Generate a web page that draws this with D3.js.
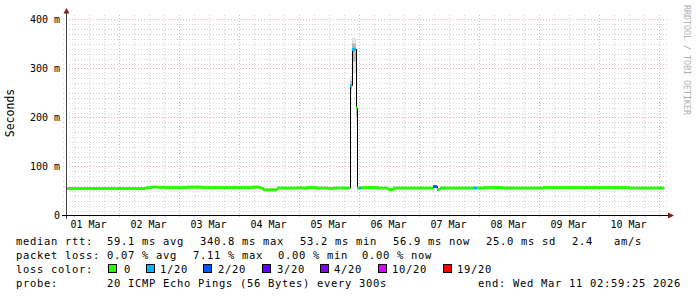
<!DOCTYPE html>
<html>
<head>
<meta charset="utf-8">
<script src="https://cdn.jsdelivr.net/npm/d3@7"></script>
<style>
  body { margin: 0; background: #fff; }
  svg { display: block; }
  text { font-family: "DejaVu Sans Mono", monospace; }
  .legend text { font-size: 10.5px; letter-spacing: 0.68px; white-space: pre; fill: #000; }
  .axis text { font-size: 10px; fill: #000; }
</style>
</head>
<body>
<svg id="chart" width="697" height="297"></svg>
<script>
// time window (UTC) and day labels
const startTime = Date.UTC(2026, 2, 1, 2, 59, 25);
const endTime = Date.UTC(2026, 2, 11, 2, 59, 25);
const dayLabels = ['01 Mar', '02 Mar', '03 Mar', '04 Mar', '05 Mar', '06 Mar', '07 Mar', '08 Mar', '09 Mar', '10 Mar'];
const yTicks = [0, 100, 200, 300, 400];
const yTickLabels = ['0', '100 m', '200 m', '300 m', '400 m'];

// median rtt steps: start hour (from startTime), median ms, lost pings of 20
const stepHours = [0, 32, 34.4, 37.2, 38.4, 39.2, 48.4, 54.4, 74.4, 77.6, 78.8, 84.4, 92.8, 94, 96, 100.4, 104.8, 106.8,
  113.6, 114.4, 116, 116.4, 117.2, 118.4, 124.8, 128.8, 130.8, 146.8, 148.4, 149.6, 162.8, 164.4, 166.8, 174.8, 190.8, 202.8, 225.6];
const stepEndHour = 239.2;
const medianMs = [55, 57, 58, 57, 58, 57, 58, 57, 58, 56, 52.5, 56, 57, 56, 57, 56, 55, 56,
  265, 339, 219, 56, 56, 57, 56, 53, 56, 59, 53, 56, 56, 56, 57, 56, 57, 57, 56];
const lossCount = [0, 0, 0, 0, 0, 0, 0, 0, 0, 0, 0, 0, 0, 0, 0, 0, 0, 0,
  1, 1, 0, 0, 1, 0, 0, 0, 0, 2, 0, 0, 1, 0, 0, 0, 0, 0, 0];

// smoke (ping spread) around the spike
const smokeHours = [113.6, 114.4, 116, 116.4];
const smokeEndHour = 117.2;
const smokeLoMs = [250, 290, 185, 55];
const smokeHiMs = [285, 363, 300, 60];

// legend
const lossLevels = [0, 1, 2, 3, 4, 10, 19];
const lossLabels = ['0', '1/20', '2/20', '3/20', '4/20', '10/20', '19/20'];
const lossColors = ['#26ff00', '#00b8ff', '#0059ff', '#5e00ff', '#7e00ff', '#dd00ff', '#ff0000'];

const svg = d3.select('#chart');
svg.append('rect').attr('width', 697).attr('height', 297).attr('fill', '#fff');

const x = d3.scaleUtc().domain([new Date(startTime), new Date(endTime)]).range([66, 666]);
const y = d3.scaleLinear().domain([0, 408.16]).range([215.5, 15.5]);
const hourToDate = h => new Date(startTime + h * 3600e3);
const lossColor = n => lossColors[lossLevels.indexOf(n)];

// grid
const grid = svg.append('g');
const minorStroke = 'rgba(128,128,128,0.35)';
const majorStroke = 'rgba(230,70,70,0.45)';
const minorY = d3.range(0, 401, 10).filter(v => v % 100 !== 0);
grid.selectAll('.my').data(minorY).join('line')
  .attr('x1', 63).attr('x2', 668)
  .attr('y1', d => Math.round(y(d)) + 0.5).attr('y2', d => Math.round(y(d)) + 0.5)
  .attr('stroke', minorStroke).attr('stroke-dasharray', '1,2');
const minorX = d3.utcHour.every(6).range(new Date(startTime), new Date(endTime)).filter(d => d.getUTCHours() !== 0);
grid.selectAll('.mx').data(minorX).join('line')
  .attr('y1', 15).attr('y2', 218)
  .attr('x1', d => Math.round(x(d)) + 0.5).attr('x2', d => Math.round(x(d)) + 0.5)
  .attr('stroke', minorStroke).attr('stroke-dasharray', '1,2');
grid.selectAll('.My').data(yTicks.slice(1)).join('line')
  .attr('x1', 63).attr('x2', 668)
  .attr('y1', d => Math.round(y(d)) + 0.5).attr('y2', d => Math.round(y(d)) + 0.5)
  .attr('stroke', majorStroke).attr('stroke-dasharray', '1,2');
const days = d3.utcDay.range(new Date(startTime), new Date(endTime));
grid.selectAll('.Mx').data(days).join('line')
  .attr('y1', 15).attr('y2', 219)
  .attr('x1', d => Math.round(x(d)) + 0.5).attr('x2', d => Math.round(x(d)) + 0.5)
  .attr('stroke', majorStroke).attr('stroke-dasharray', '1,2');

// smoke
const plot = svg.append('g');
smokeHours.forEach((h, i) => {
  const h1 = i < smokeHours.length - 1 ? smokeHours[i + 1] : smokeEndHour;
  const x0 = x(hourToDate(h)), x1 = x(hourToDate(h1));
  const lo = smokeLoMs[i], hi = smokeHiMs[i], med = medianMs[stepHours.indexOf(h)];
  plot.append('rect').attr('x', x0).attr('width', x1 - x0)
    .attr('y', y(hi)).attr('height', y(lo) - y(hi)).attr('fill', '#e4e4e4');
  const ilo = (lo + med) / 2, ihi = (hi + med) / 2;
  plot.append('rect').attr('x', x0).attr('width', x1 - x0)
    .attr('y', y(ihi)).attr('height', y(ilo) - y(ihi)).attr('fill', '#b8b8b8');
});

// median line (black step) and loss-coloured bands
const pts = stepHours.map((h, i) => [hourToDate(h), medianMs[i]]);
pts.push([hourToDate(stepEndHour), medianMs[medianMs.length - 1]]);
plot.append('path').datum(pts)
  .attr('d', d3.line().x(d => Math.round(x(d[0])) + 0.5).y(d => y(d[1])).curve(d3.curveStepAfter))
  .attr('fill', 'none').attr('stroke', '#000').attr('stroke-width', 1);
stepHours.forEach((h, i) => {
  const h1 = i < stepHours.length - 1 ? stepHours[i + 1] : stepEndHour;
  const x0 = x(hourToDate(h)), x1 = x(hourToDate(h1));
  plot.append('rect').attr('x', x0).attr('width', x1 - x0)
    .attr('y', y(medianMs[i]) - 1.5).attr('height', 3)
    .attr('fill', lossColor(lossCount[i]));
});

// axes
const axis = svg.append('g').attr('class', 'axis');
axis.append('line').attr('x1', 66.5).attr('x2', 66.5).attr('y1', 12).attr('y2', 219)
  .attr('stroke', '#444');
axis.append('line').attr('x1', 62).attr('x2', 670).attr('y1', 215.5).attr('y2', 215.5)
  .attr('stroke', '#000');
axis.append('path').attr('d', 'M63.5,13.5 L66.5,8 L69.5,13.5 Z').attr('fill', '#8b1a1a');
axis.append('path').attr('d', 'M668,212.5 L674,215.5 L668,218.5 Z').attr('fill', '#8b1a1a');

axis.selectAll('.yl').data(yTicks).join('text')
  .attr('x', 60).attr('y', d => y(d) + 3.5).attr('text-anchor', 'end')
  .text((d, i) => yTickLabels[i]);
axis.selectAll('.xl').data(dayLabels).join('text')
  .attr('x', (d, i) => x(d3.utcHour.offset(days[0], 12 + 24 * (i - 1))))
  .attr('y', 228).attr('text-anchor', 'middle')
  .text(d => d);

svg.append('text').attr('transform', 'translate(14,113) rotate(-90)')
  .attr('text-anchor', 'middle').style('font-size', '11.5px').text('Seconds');
svg.append('text').attr('transform', 'translate(684,5) rotate(90)')
  .attr('textLength', 110).style('font-size', '8.3px').attr('fill', '#b0b0b0')
  .text('RRDTOOL / TOBI OETIKER');

// legend
const legend = svg.append('g').attr('class', 'legend');
const rows = [
  [[16, 'median rtt:'], [107, '59.1 ms avg'], [200, '340.8 ms max'], [300, '53.2 ms min'], [393, '56.9 ms now'], [486, '25.0 ms sd'], [572, '2.4'], [614, 'am/s']],
  [[16, 'packet loss:'], [107, '0.07 % avg'], [193, '7.11 % max'], [278, '0.00 % min'], [362, '0.00 % now']],
  [[16, 'loss color:']],
  [[16, 'probe:'], [107, '20 ICMP Echo Pings (56 Bytes) every 300s'], [478, 'end: Wed Mar 11 02:59:25 2026']]
];
rows.forEach((row, r) => {
  legend.selectAll('.r' + r).data(row).join('text')
    .attr('x', d => d[0]).attr('y', 245 + r * 14).text(d => d[1]);
});
const boxX = [108, 146, 203, 262, 320, 378, 443];
const labelX = [124, 160, 218, 277, 334, 392, 457];
legend.selectAll('.box').data(lossLabels).join('rect')
  .attr('x', (d, i) => boxX[i] + 0.5).attr('y', 264.5).attr('width', 8).attr('height', 8)
  .attr('fill', (d, i) => lossColors[i]).attr('stroke', '#000');
legend.selectAll('.bl').data(lossLabels).join('text')
  .attr('x', (d, i) => labelX[i]).attr('y', 273).text(d => d);
</script>
</body>
</html>
